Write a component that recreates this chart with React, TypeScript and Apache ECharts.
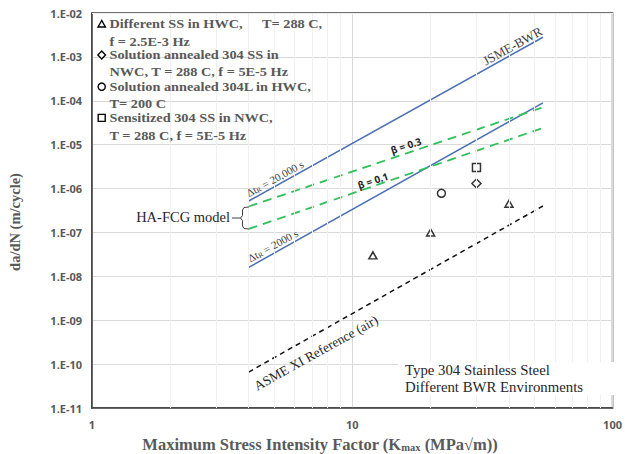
import React, { useEffect, useRef } from "react";
import * as echarts from "echarts";

// ---- data ----
const lineX = [4, 54];
const jsmeBwr = [5.2e-7, 2.8e-3];
const dt2000 = [1.6e-8, 9.0e-5];
const beta03 = [3.9e-7, 7.1e-5];
const beta01 = [1.2e-7, 2.4e-5];
const asmeAir = [6.6e-11, 4.0e-7];

const triX = [12, 20, 40];
const triY = [3.0e-8, 1.0e-7, 4.5e-7];
const diaX = [30];
const diaY = [1.3e-6];
const cirX = [22];
const cirY = [7.8e-7];
const sqX = [30];
const sqY = [3.0e-6];

const xMinorGrid = [2, 3, 4, 5, 6, 7, 8, 9, 20, 30, 40, 50, 60, 70, 80, 90];
const yDecadeExps = [-11, -10, -9, -8, -7, -6, -5, -4, -3];
const yMinorMult = [2, 3, 4, 5, 6, 7, 8, 9];

const legendLines = [
  "Different SS in HWC,",
  "f = 2.5E-3 Hz",
  "Solution annealed 304 SS in",
  "NWC, T = 288 C, f = 5E-5 Hz",
  "Solution annealed 304L in HWC,",
  "T= 200 C",
  "Sensitized 304 SS in NWC,",
  "T = 288 C, f = 5E-5 Hz",
];

const SERIF = "'Liberation Serif', 'DejaVu Serif', serif";
const SANS = "'Noto Sans', 'DejaVu Sans', sans-serif";

const zip = (xs: number[], ys: number[]) => xs.map((x, i) => [x, ys[i]]);

export default function App() {
  const ref = useRef<HTMLDivElement>(null);
  useEffect(() => {
    if (!ref.current) return;
    const chart = echarts.init(ref.current, null, { renderer: "svg" });

    const yMinorGrid: number[] = [];
    yDecadeExps.forEach((e) => yMinorMult.forEach((m) => yMinorGrid.push(m * Math.pow(10, e))));

    const gridColor = "#f0f0f0";
    const lineTxt = { fill: "#595959", font: `bold 13px ${SERIF}` };
    const legY = [24, 41.5, 55.2, 72, 86.8, 104, 118.2, 135.7];

    const legendGraphics: any[] = legendLines.map((t, i) => ({
      type: "text",
      x: 109.5,
      y: legY[i],
      z: 20,
      scaleX: 1.1,
      style: { text: t, ...lineTxt, verticalAlign: "middle", align: "left" },
    }));
    legendGraphics.push({
      type: "text",
      x: 262,
      y: legY[0],
      z: 20,
      scaleX: 1.1,
      style: { text: "T= 288 C,", ...lineTxt, verticalAlign: "middle", align: "left" },
    });
    const iconStyle = { stroke: "#000", lineWidth: 1.4, fill: "#fff" };
    legendGraphics.push(
      { type: "polygon", z: 20, shape: { points: [[101.7, 20.5], [98, 27], [105.4, 27]] }, style: iconStyle },
      { type: "polygon", z: 20, shape: { points: [[101.7, 51], [105.5, 55], [101.7, 59], [97.9, 55]] }, style: iconStyle },
      { type: "circle", z: 20, shape: { cx: 101.7, cy: 86.7, r: 3.6 }, style: iconStyle },
      { type: "rect", z: 20, shape: { x: 98.2, y: 114.4, width: 7, height: 7 }, style: iconStyle }
    );

    const rotBlue = (28.8 * Math.PI) / 180;
    const rotGreen = (18.4 * Math.PI) / 180;
    const rotAsme = (29.2 * Math.PI) / 180;

    const subRich = {
      s: { fontSize: 7, fontFamily: SERIF, fill: "#404040", padding: [5, 0, 0, 0] },
    };

    chart.setOption({
      animation: false,
      backgroundColor: "#fff",
      grid: {
        left: 92,
        right: 8,
        top: 13,
        bottom: 46,
        show: true,
        borderColor: "#404040",
        borderWidth: 1.5,
        backgroundColor: "transparent",
      },
      xAxis: {
        type: "log",
        logBase: 10,
        min: 1,
        max: 100,
        splitNumber: 2,
        axisLine: { show: true, lineStyle: { color: "#404040", width: 1.5 } },
        axisTick: { show: false },
        axisLabel: { color: "#595959", fontWeight: "bold", fontSize: 11, fontFamily: SANS, margin: 11 },
        splitLine: { show: true, lineStyle: { color: "#d9d9d9", width: 1 } },
      },
      yAxis: {
        type: "log",
        logBase: 10,
        min: 1e-11,
        max: 1e-2,
        splitNumber: 9,
        axisLine: { show: true, lineStyle: { color: "#404040", width: 1.5 } },
        axisTick: { show: false },
        axisLabel: {
          color: "#595959",
          fontWeight: "bold",
          fontSize: 11,
          fontFamily: SANS,
          margin: 10,
          formatter: (v: number) => {
            const e = Math.round(Math.log10(v));
            return `1.E${e < 0 ? "-" : "+"}${String(Math.abs(e)).padStart(2, "0")}`;
          },
        },
        splitLine: { show: true, lineStyle: { color: "#d9d9d9", width: 1 } },
      },
      series: [
        {
          type: "line",
          name: "minorGrid",
          data: [[2, 1e-5]],
          showSymbol: false,
          symbol: "none",
          silent: true,
          z: 0,
          lineStyle: { opacity: 0 },
          markLine: {
            silent: true,
            symbol: "none",
            animation: false,
            label: { show: false },
            lineStyle: { color: gridColor, width: 1, type: "solid" },
            data: [
              ...xMinorGrid.map((v) => ({ xAxis: v })),
              ...yMinorGrid.map((v) => ({ yAxis: v })),
            ],
          },
        },
        {
          type: "line",
          name: "JSME-BWR",
          data: zip(lineX, jsmeBwr),
          symbol: "none",
          lineStyle: { color: "#4a6fb5", width: 1.5 },
          z: 3,
        },
        {
          type: "line",
          name: "2000 s",
          data: zip(lineX, dt2000),
          symbol: "none",
          lineStyle: { color: "#4a6fb5", width: 1.5 },
          z: 3,
        },
        {
          type: "line",
          name: "beta 0.3",
          data: zip(lineX, beta03),
          symbol: "none",
          lineStyle: { color: "#2ec15a", width: 1.8, type: [9, 6] },
          z: 3,
        },
        {
          type: "line",
          name: "beta 0.1",
          data: zip(lineX, beta01),
          symbol: "none",
          lineStyle: { color: "#2ec15a", width: 1.8, type: [9, 6] },
          z: 3,
        },
        {
          type: "line",
          name: "ASME XI",
          data: zip(lineX, asmeAir),
          symbol: "none",
          lineStyle: { color: "#111", width: 1.5, type: [5, 4] },
          z: 3,
        },
        {
          type: "scatter",
          name: "Different SS in HWC",
          data: zip(triX, triY),
          symbol: "triangle",
          symbolSize: [8, 7],
          itemStyle: { color: "#fff", borderColor: "#000", borderWidth: 1.5 },
          z: 4,
        },
        {
          type: "scatter",
          name: "Solution annealed 304 SS in NWC",
          data: zip(diaX, diaY),
          symbol: "diamond",
          symbolSize: 9,
          itemStyle: { color: "#fff", borderColor: "#000", borderWidth: 1.5 },
          z: 4,
        },
        {
          type: "scatter",
          name: "Solution annealed 304L in HWC",
          data: zip(cirX, cirY),
          symbol: "circle",
          symbolSize: 8,
          itemStyle: { color: "#fff", borderColor: "#000", borderWidth: 1.5 },
          z: 4,
        },
        {
          type: "scatter",
          name: "Sensitized 304 SS in NWC",
          data: zip(sqX, sqY),
          symbol: "rect",
          symbolSize: 8,
          itemStyle: { color: "#fff", borderColor: "#000", borderWidth: 1.5 },
          z: 4,
        },
      ],
      graphic: [
        ...legendGraphics,
        // Y axis title
        {
          type: "text",
          x: 15,
          y: 222,
          z: 20,
          rotation: Math.PI / 2,
          style: {
            text: "da/dN (m/cycle)",
            fill: "#595959",
            font: `bold 14.5px ${SERIF}`,
            align: "center",
            verticalAlign: "middle",
          },
        },
        // X axis title
        {
          type: "text",
          x: 320,
          y: 444.5,
          z: 20,
          style: {
            text: "Maximum Stress Intensity Factor (K{s|max} (MPa√m))",
            fill: "#595959",
            font: `bold 16.5px ${SERIF}`,
            align: "center",
            verticalAlign: "middle",
            rich: {
              s: { fontSize: 10.5, fontWeight: "bold", fontFamily: SERIF, fill: "#595959", padding: [6, 0, 0, 0] },
            },
          },
        },
        // JSME-BWR
        {
          type: "text",
          x: 512.5,
          y: 46,
          z: 20,
          rotation: rotBlue,
          style: { text: "JSME-BWR", fill: "#404040", font: `13px ${SERIF}`, align: "center", verticalAlign: "middle" },
        },
        {
          type: "text",
          x: 275,
          y: 178.5,
          z: 20,
          rotation: rotBlue,
          style: {
            text: "Δt{s|R} = 20,000 s",
            fill: "#404040",
            font: `11px ${SERIF}`,
            align: "center",
            verticalAlign: "middle",
            rich: subRich,
          },
        },
        {
          type: "text",
          x: 273,
          y: 245.5,
          z: 20,
          rotation: rotBlue,
          style: {
            text: "Δt{s|R} = 2000 s",
            fill: "#404040",
            font: `11px ${SERIF}`,
            align: "center",
            verticalAlign: "middle",
            rich: subRich,
          },
        },
        {
          type: "text",
          x: 406,
          y: 145.5,
          z: 20,
          rotation: rotGreen,
          style: { text: "β = 0.3", fill: "#262626", font: `bold 10px ${SANS}`, align: "center", verticalAlign: "middle" },
        },
        {
          type: "text",
          x: 373,
          y: 180.5,
          z: 20,
          rotation: rotGreen,
          style: { text: "β = 0.1", fill: "#262626", font: `bold 10px ${SANS}`, align: "center", verticalAlign: "middle" },
        },
        {
          type: "text",
          x: 316,
          y: 353,
          z: 20,
          rotation: rotAsme,
          style: {
            text: "ASME XI Reference (air)",
            fill: "#262626",
            font: `13.5px ${SERIF}`,
            align: "center",
            verticalAlign: "middle",
          },
        },
        // HA-FCG model
        {
          type: "text",
          x: 230,
          y: 217,
          z: 20,
          style: { text: "HA-FCG model", fill: "#262626", font: `14.5px ${SERIF}`, align: "right", verticalAlign: "middle" },
        },
        {
          type: "polyline",
          z: 20,
          shape: {
            points: [
              [249, 207],
              [244, 207.5],
              [242.5, 210],
              [242.5, 215.5],
              [240.5, 218],
              [242.5, 220.5],
              [242.5, 226],
              [244, 228.5],
              [249, 229],
            ],
          },
          style: { stroke: "#404040", lineWidth: 1, fill: null },
        },
        { type: "line", z: 20, shape: { x1: 232, y1: 218, x2: 240.5, y2: 218 }, style: { stroke: "#404040", lineWidth: 1 } },
        // info box
        {
          type: "rect",
          shape: { x: 398, y: 362, width: 218, height: 33 },
          style: { fill: "#fff" },
          z: 10,
        },
        {
          type: "text",
          x: 405,
          y: 369.5,
          z: 21,
          style: { text: "Type 304 Stainless Steel", fill: "#262626", font: `14.8px ${SERIF}`, verticalAlign: "middle" },
        },
        {
          type: "text",
          x: 405,
          y: 386.9,
          z: 21,
          style: { text: "Different BWR Environments", fill: "#262626", font: `14.8px ${SERIF}`, verticalAlign: "middle" },
        },
      ],
    });
    return () => chart.dispose();
  }, []);
  return (
    <div
      ref={ref}
      style={{ position: "fixed", left: 0, top: 0, width: 625, height: 454, background: "#fff" }}
    />
  );
}
